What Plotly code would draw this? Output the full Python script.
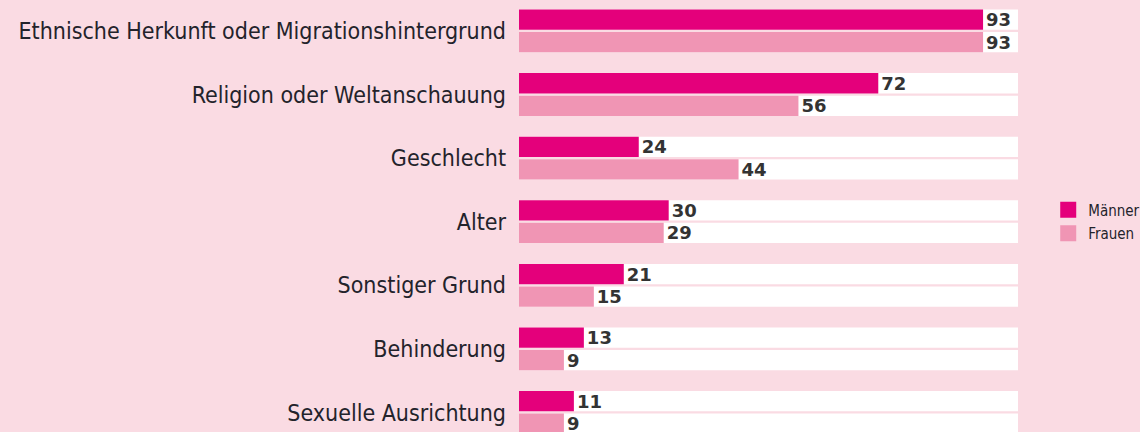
import plotly.graph_objects as go

categories = [
    "Ethnische Herkunft oder Migrationshintergrund",
    "Religion oder Weltanschauung",
    "Geschlecht",
    "Alter",
    "Sonstiger Grund",
    "Behinderung",
    "Sexuelle Ausrichtung",
]
maenner = [93, 72, 24, 30, 21, 13, 11]
frauen = [93, 56, 44, 29, 15, 9, 9]
scale_max = 100
track = [scale_max] * len(categories)

BG = "#FADBE3"
C_M = "#E4007B"
C_F = "#F095B4"
TXT = "#23232B"
LABEL_FONT = "Liberation Sans Narrow, Arial Narrow, DejaVu Sans Condensed, Liberation Sans, sans-serif"
VAL_FONT = "DejaVu Sans, Verdana, sans-serif"

fig = go.Figure()
for grp in ["m", "f"]:
    fig.add_trace(go.Bar(
        y=categories, x=track, orientation="h", offsetgroup=grp,
        marker=dict(color="white", line=dict(width=0)),
        showlegend=False, hoverinfo="skip",
    ))

fig.add_trace(go.Bar(
    y=categories, x=maenner, orientation="h", offsetgroup="m", name="Männer",
    marker=dict(color=C_M, line=dict(width=0)),
    text=[str(v) for v in maenner], textposition="outside", constraintext="none",
    cliponaxis=False, textfont=dict(family=VAL_FONT, size=18, color="#333333", weight="bold"),
    showlegend=False,
))
fig.add_trace(go.Bar(
    y=categories, x=frauen, orientation="h", offsetgroup="f", name="Frauen",
    marker=dict(color=C_F, line=dict(width=0)),
    text=[str(v) for v in frauen], textposition="outside", constraintext="none",
    cliponaxis=False, textfont=dict(family=VAL_FONT, size=18, color="#333333", weight="bold"),
    showlegend=False,
))

# legend entries
for name, col in [("Männer", C_M), ("Frauen", C_F)]:
    fig.add_trace(go.Scatter(
        x=[None], y=[None], mode="markers", name=name, legendgroup=name,
        marker=dict(symbol="square", size=18, color=col),
        showlegend=True,
    ))

fig.update_layout(
    width=1140, height=432,
    paper_bgcolor=BG, plot_bgcolor=BG,
    margin=dict(l=519, r=122, t=0, b=0),
    barmode="group", bargap=0.292, bargroupgap=0.1,
    showlegend=True,
    legend=dict(
        xref="container", yref="container",
        x=0.9195, y=0.487, xanchor="left", yanchor="middle",
        bgcolor="rgba(0,0,0,0)", itemsizing="trace", tracegroupgap=1,
        font=dict(family=LABEL_FONT, size=15, color=TXT),
        traceorder="grouped",
    ),
    xaxis=dict(range=[0, scale_max], showgrid=False, zeroline=False,
               showticklabels=False, showline=False, fixedrange=True),
    yaxis=dict(type="category", categoryorder="array", categoryarray=categories,
               range=[6.307, -0.486], showgrid=False, zeroline=False, showline=False,
               ticks="", ticklabelstandoff=12,
               tickfont=dict(family=LABEL_FONT, size=23, color=TXT)),
)

fig.write_html("out.html")
